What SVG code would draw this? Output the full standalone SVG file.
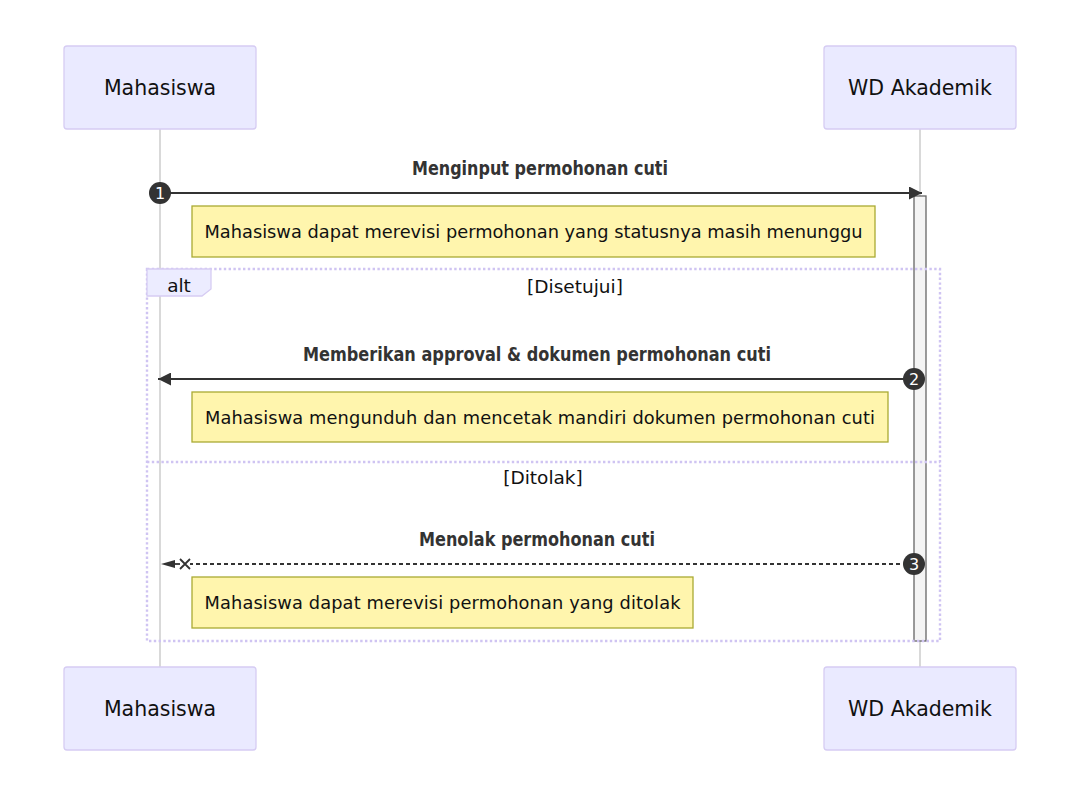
<svg xmlns="http://www.w3.org/2000/svg" width="1080" height="785" viewBox="0 0 1080 785">
<defs>
<style>
.actor{fill:#eaeaff;stroke:#d6ccf3;stroke-width:1.3}
.actorText{font-family:"DejaVu Sans",sans-serif;font-size:20.5px;fill:#111;text-anchor:middle}
.life{stroke:#cccccc;stroke-width:1.5}
.msg{stroke:#333;stroke-width:1.8;fill:none}
.dotted{stroke-dasharray:4,3}
.msgText{font-family:"DejaVu Sans",sans-serif;font-weight:bold;font-size:20px;fill:#333;text-anchor:middle}
.note{fill:#fff5ad;stroke:#aaaa33;stroke-width:1.3}
.noteText{font-family:"DejaVu Sans",sans-serif;font-size:17.8px;fill:#111;text-anchor:middle}
.loop{fill:none;stroke:#cfc4f2;stroke-width:2.4;stroke-dasharray:2.4,2.4}
.loopLabel{fill:#ececff;stroke:#d6ccf3;stroke-width:1.3}
.loopText{font-family:"DejaVu Sans",sans-serif;font-size:18.5px;fill:#111;text-anchor:middle}
.seq{fill:#333}
.seqText{font-family:"DejaVu Sans",sans-serif;font-size:16px;fill:#fff;text-anchor:middle}
.act{fill:#f4f4f4;stroke:#666;stroke-width:1.3}
</style>
<marker id="arrow" markerWidth="13" markerHeight="13" refX="13" refY="6.5" orient="auto" markerUnits="userSpaceOnUse">
<path d="M0,0 L13,6.5 L0,13 z" fill="#333"/>
</marker>
</defs>
<rect width="1080" height="785" fill="#ffffff"/>

<g id="lifelines">
<line class="life" x1="160" y1="129" x2="160" y2="667"/>
<line class="life" x1="920" y1="129" x2="920" y2="667"/>
</g>

<g id="actor-mahasiswa-top">
<rect class="actor" x="64" y="46" width="192" height="83" rx="3"/>
<text class="actorText" x="160" y="95">Mahasiswa</text>
</g>
<g id="actor-wd-top">
<rect class="actor" x="824" y="46" width="192" height="83" rx="3"/>
<text class="actorText" x="920" y="95">WD Akademik</text>
</g>
<g id="actor-mahasiswa-bottom">
<rect class="actor" x="64" y="667" width="192" height="83" rx="3"/>
<text class="actorText" x="160" y="716">Mahasiswa</text>
</g>
<g id="actor-wd-bottom">
<rect class="actor" x="824" y="667" width="192" height="83" rx="3"/>
<text class="actorText" x="920" y="716">WD Akademik</text>
</g>

<g id="activation">
<rect class="act" x="914" y="196" width="12" height="445"/>
</g>

<g id="alt-block">
<rect class="loop" x="147" y="269" width="793" height="372"/>
<line class="loop" x1="147" y1="462" x2="940" y2="462"/>
<polygon class="loopLabel" points="147,269 211,269 211,289 202,296 147,296"/>
<text class="loopText" x="179" y="292">alt</text>
<text class="loopText" x="575" y="293">[Disetujui]</text>
<text class="loopText" x="543" y="484">[Ditolak]</text>
</g>

<g id="connectors">
<line class="msg" x1="160" y1="193" x2="922" y2="193" marker-end="url(#arrow)"/>
<line class="msg" x1="914" y1="379" x2="158" y2="379" marker-end="url(#arrow)"/>
<line class="msg dotted" x1="900" y1="564" x2="190" y2="564"/>
<path d="M161,564 L175,560 L175,568 z" fill="#333"/>
<path d="M180,559 L190,569 M180,569 L190,559" stroke="#333" stroke-width="1.8"/>
<line class="msg" x1="175" y1="564" x2="180" y2="564"/>
</g>

<g id="message-labels">
<text class="msgText" x="540" y="175" textLength="256" lengthAdjust="spacingAndGlyphs">Menginput permohonan cuti</text>
<text class="msgText" x="537" y="361" textLength="468" lengthAdjust="spacingAndGlyphs">Memberikan approval &amp; dokumen permohonan cuti</text>
<text class="msgText" x="537" y="546" textLength="236" lengthAdjust="spacingAndGlyphs">Menolak permohonan cuti</text>
</g>

<g id="seq-1">
<circle class="seq" cx="160" cy="193" r="11"/>
<text class="seqText" x="160" y="199">1</text>
</g>
<g id="seq-2">
<circle class="seq" cx="914" cy="379" r="11"/>
<text class="seqText" x="914" y="385">2</text>
</g>
<g id="seq-3">
<circle class="seq" cx="914" cy="564" r="11"/>
<text class="seqText" x="914" y="570">3</text>
</g>

<g id="note-1">
<rect class="note" x="192" y="206" width="683" height="51"/>
<text class="noteText" x="533.5" y="238" textLength="658">Mahasiswa dapat merevisi permohonan yang statusnya masih menunggu</text>
</g>
<g id="note-2">
<rect class="note" x="192" y="392" width="696" height="50"/>
<text class="noteText" x="540" y="424" textLength="670">Mahasiswa mengunduh dan mencetak mandiri dokumen permohonan cuti</text>
</g>
<g id="note-3">
<rect class="note" x="192" y="577" width="501" height="51"/>
<text class="noteText" x="442.5" y="609" textLength="476">Mahasiswa dapat merevisi permohonan yang ditolak</text>
</g>
</svg>
